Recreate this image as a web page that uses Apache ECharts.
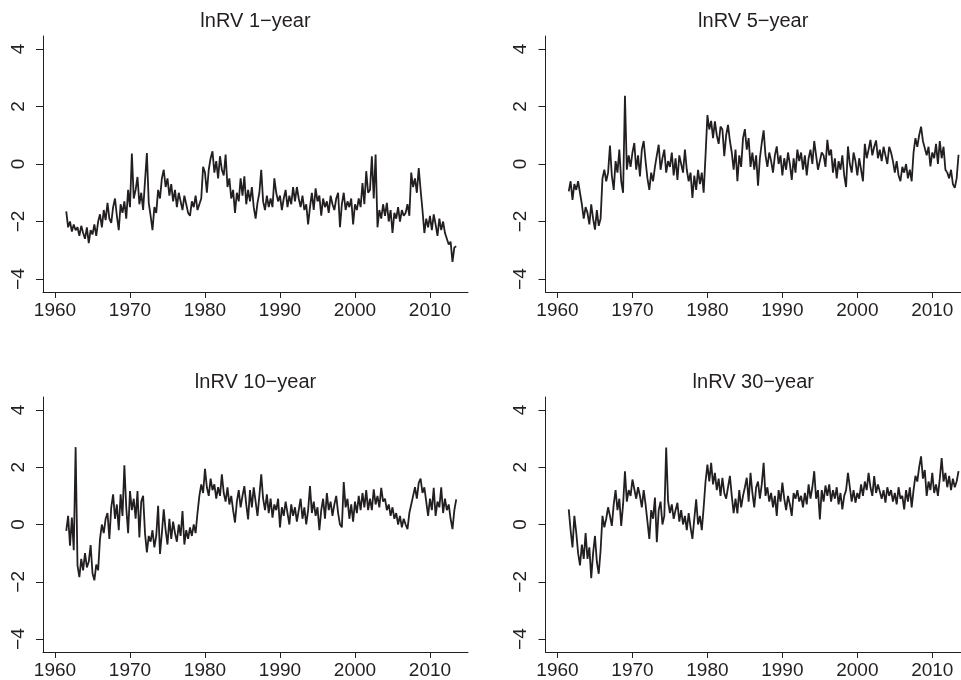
<!DOCTYPE html>
<html>
<head>
<meta charset="utf-8">
<script src="https://cdn.jsdelivr.net/npm/echarts@6/dist/echarts.min.js"></script>
<style>
  html, body { margin: 0; padding: 0; background: #fff; }
  #chart { width: 961px; height: 680px; }
</style>
</head>
<body>
<div id="chart"></div>
<script>
// quarterly observations, 1961.5 .. 2013.5
const startYear = 1961.5;
const step = 0.25;

const titles = ['lnRV 1\u2212year', 'lnRV 5\u2212year', 'lnRV 10\u2212year', 'lnRV 30\u2212year'];
const xTicks = [1960, 1970, 1980, 1990, 2000, 2010];
const yTicks = [-4, -2, 0, 2, 4];

const lnRV1 = [
  -1.65, -2.2,
  -2.0, -2.35, -2.1, -2.3,
  -2.2, -2.5, -2.15, -2.4,
  -2.6, -2.2, -2.75, -2.3,
  -2.45, -2.1, -2.5, -2.0,
  -1.75, -2.2, -1.6, -1.95,
  -1.35, -1.9, -2.05, -1.5,
  -1.2, -1.8, -2.3, -1.4,
  -1.7, -1.3, -1.9, -0.9,
  -1.5, 0.36, -1.2, -0.9,
  -0.45, -1.4, -1.0, -1.6,
  -0.6, 0.38, -1.35, -1.8,
  -2.3, -1.5, -1.7, -0.9,
  -1.2, -0.5, -0.2, -0.8,
  -0.5, -1.1, -0.7, -1.3,
  -0.9, -1.5, -1.0, -1.3,
  -1.6, -1.1, -1.4, -1.7,
  -1.8, -1.3, -1.5, -1.1,
  -1.6, -1.4, -1.2, -0.1,
  -0.3, -1.0, -0.2, 0.2,
  0.44, -0.3, 0.1, -0.5,
  0.27, -0.2, -0.4, 0.33,
  -0.8, -0.5, -1.2, -0.9,
  -1.7, -1.0, -1.3, -0.5,
  -1.1, -0.43, -1.4, -0.9,
  -1.3, -0.8, -1.5, -1.9,
  -1.35, -1.0, -0.2, -1.3,
  -1.6, -1.1, -1.5, -1.2,
  -1.5, -0.5, -1.0, -1.3,
  -1.1, -1.6, -1.2, -0.9,
  -1.5, -1.1, -1.4, -0.8,
  -1.3, -0.8, -1.2, -1.5,
  -1.1, -1.6, -1.4, -2.1,
  -1.5, -1.0, -1.6, -0.85,
  -1.3, -1.1, -1.8, -1.2,
  -1.5, -1.3, -1.7, -1.1,
  -1.4, -1.6, -1.2, -1.0,
  -2.2, -1.4, -1.0, -1.6,
  -1.3, -1.5, -1.2, -2.1,
  -1.4, -1.6, -1.2, -1.5,
  -0.66, -1.4, -0.25, -1.0,
  -0.9, 0.27, -1.2, 0.33,
  -2.2, -1.6, -1.9, -1.4,
  -1.8, -1.35, -2.0, -1.6,
  -2.4, -1.7, -1.9, -1.5,
  -2.0, -1.6, -1.8, -1.7,
  -1.4, -1.8, -0.3, -0.8,
  -0.5, -1.0, -0.14, -0.9,
  -1.6, -2.4, -1.9, -2.2,
  -1.8, -2.3, -1.75, -2.1,
  -2.5, -1.9, -2.3, -2.0,
  -2.4, -2.6, -2.8, -2.7,
  -3.4, -2.9, -2.86
];

const lnRV5 = [
  -0.95, -0.6,
  -1.25, -0.7, -0.9, -0.6,
  -1.0, -1.4, -1.9, -1.5,
  -1.7, -2.1, -1.4, -1.9,
  -2.28, -1.6, -2.15, -1.9,
  -0.5, -0.2, -0.6, -0.3,
  0.64, -0.4, -0.9, 0.1,
  -0.3, 0.5, -0.6, -1.0,
  2.37, -0.2, 0.3, -0.1,
  0.4, 0.73, -0.2, 0.3,
  -0.43, 0.5, 0.8, 0.1,
  -0.5, -0.9, -0.3, -0.6,
  -0.1, 0.3, 0.67, -0.2,
  0.2, 0.5, -0.3, 0.1,
  -0.1, 0.4, -0.4, 0.2,
  -0.55, 0.3, 0.0, -0.3,
  0.5, -0.2, -0.6, -0.3,
  -1.18, -0.4, -0.9, -0.2,
  -0.7, -0.3, -1.0, 0.3,
  1.7, 1.2, 1.5, 0.9,
  1.48, 1.0, 0.7, 1.3,
  1.2, 0.27, 1.0, 1.36,
  0.8, 0.4, -0.2, 0.5,
  -0.6, 0.3, -0.1, 0.9,
  1.21, 0.5, 0.9, -0.1,
  0.4, -0.2, 0.3, -0.75,
  0.2, 0.73, 1.17, 0.3,
  -0.1, 0.4, 0.1, -0.3,
  0.3, 0.61, 0.0, 0.3,
  -0.4, 0.2, -0.2, 0.4,
  0.0, -0.55, 0.2, -0.3,
  0.5, 0.1, 0.4, -0.2,
  0.3, -0.4, 0.2, 0.5,
  0.0, 0.8, 0.3, -0.2,
  0.1, 0.4, 0.3, -0.1,
  0.84, 0.3, 0.5, -0.3,
  0.2, -0.5, 0.1, -0.2,
  0.3, -0.4, -0.8, 0.61,
  0.0, -0.3, 0.4, 0.1,
  -0.4, 0.2, -0.2, -0.6,
  0.7, 0.2, 0.5, 0.84,
  0.3, 0.6, 0.82, 0.2,
  0.5, 0.1, 0.6, 0.3,
  0.0, 0.6, 0.4, 0.1,
  -0.3, 0.1, -0.4, -0.6,
  -0.1, -0.3, 0.0, -0.5,
  -0.2, -0.6, 0.4, 0.9,
  0.6, 1.0, 1.3, 0.8,
  0.84, 0.3, 0.6, -0.08,
  0.4, 0.2, 0.7, 0.0,
  0.8, 0.2, 0.6, -0.2,
  -0.3, -0.5, -0.2, -0.7,
  -0.83, -0.5, 0.32
];

const lnRV10 = [
  -0.22, 0.3,
  -0.74, 0.24, -0.9, 2.7,
  -1.43, -1.84, -1.2, -1.6,
  -1.0, -1.5, -1.3, -0.72,
  -1.7, -1.95, -1.4, -1.6,
  -0.5, 0.0, -0.3, 0.2,
  0.4, -0.5, 0.6, 1.05,
  0.2, 0.7, -0.2, 1.05,
  0.3, 2.07, 0.6, -0.3,
  1.17, 0.5, 0.9, 0.2,
  1.17, -0.45, 0.8, 1.0,
  -0.3, -0.97, -0.4, -0.6,
  -0.2, -0.8, -0.4, 0.65,
  -1.03, -0.3, 0.53, -0.2,
  -0.7, 0.2, -0.5, 0.1,
  -0.3, -0.6, 0.0, -0.4,
  0.47, -0.7, -0.2, -0.5,
  -0.1, -0.4, 0.0, -0.3,
  0.4, 1.0, 1.4, 1.1,
  1.94, 1.3, 1.0, 1.6,
  1.2, 1.4, 0.9, 1.3,
  1.0, 1.75, 1.1, 0.8,
  1.3, 0.7, 1.0, 0.5,
  0.07, 0.8, 1.2, 0.6,
  1.0, 1.34, 0.7, 0.18,
  1.2, 0.6, 1.3, 0.8,
  0.3, 1.0, 1.75, 0.9,
  0.5, 1.05, 0.4, 0.9,
  0.24, 0.7, 0.5, 0.9,
  -0.1, 0.6, 0.3, 0.8,
  0.4, 0.0, 0.7, 0.3,
  0.6, 0.1, 0.5, 0.9,
  0.2, 0.6, 0.0, 0.5,
  1.34, 0.4, 0.8, 0.3,
  0.6, -0.2, 0.5, 0.9,
  0.2, 1.1, 0.5, 0.8,
  0.3, 0.7, 1.0, 0.4,
  0.0, -0.1, 1.48, 0.6,
  0.9, 0.2, 0.7, 0.1,
  0.8, 0.4, 1.0, 0.5,
  1.1, 0.6, 1.2, 0.5,
  0.9, 0.5, 1.23, 0.7,
  1.0, 0.6, 1.28, 0.8,
  0.9, 0.5, 0.7, 0.3,
  0.6, 0.2, 0.4, 0.0,
  0.3, -0.1, 0.2, 0.0,
  -0.16, 0.4, 0.7, 1.0,
  1.3, 0.9, 1.45, 1.6,
  1.1, 1.3, 0.8, 0.3,
  0.9, 0.5, 1.28, 0.3,
  0.8, 0.6, 1.3, 0.4,
  0.9, 0.5, 0.7, 0.2,
  -0.16, 0.5, 0.88
];

const lnRV30 = [
  0.53, -0.2,
  -0.8, 0.3, -0.28, -1.0,
  -1.43, -0.7, -1.2, -0.3,
  -1.2, -0.8, -1.87, -1.0,
  -0.4, -1.3, -1.72, -0.9,
  0.3, -0.1, 0.2, 0.6,
  0.3, -0.05, 0.7, 1.2,
  0.5, 0.9, -0.05, 0.7,
  1.86, 0.8, 1.2, 1.0,
  1.57, 1.63, 0.9, 1.3,
  1.0, 0.6, 1.2, 0.7,
  0.1, -0.5, 0.5, 0.2,
  0.94, -0.62, 0.5, 0.8,
  0.0, 0.3, 2.69, 0.82,
  0.4, 0.7, 0.2, 0.5,
  0.76, 0.1, 0.5, 0.0,
  0.3, -0.2, 0.4, -0.1,
  -0.5, 0.2, 0.88, 0.0,
  0.3, -0.2, 0.6, 1.5,
  2.09, 1.5, 2.15, 1.4,
  1.8, 1.2, 1.6, 1.0,
  1.63, 1.1, 0.9, 1.3,
  1.7, 1.0, 0.4, 0.9,
  0.39, 1.2, 0.6, 1.0,
  1.3, 1.63, 0.8, 1.8,
  1.1, 0.6, 1.3, 1.5,
  0.9, 1.4, 2.15, 1.0,
  1.3, 0.8, 1.1, 0.6,
  1.0, 0.3, 1.2, 0.8,
  1.46, 0.9, 0.5, 1.0,
  0.7, 0.3, 1.1, 0.9,
  1.2, 0.8, 1.0, 0.6,
  1.1, 0.7, 1.4, 0.9,
  1.3, 1.86, 0.9, 1.2,
  0.18, 1.2, 0.8, 1.36,
  1.0, 1.4, 0.8, 1.2,
  0.9, 1.3, 0.7, 1.1,
  0.53, 1.0, 1.2, 1.8,
  1.3, 0.8, 1.2, 0.76,
  1.1, 0.9, 1.4, 1.0,
  1.5, 1.2, 1.8, 1.3,
  1.0, 1.69, 1.1, 1.4,
  1.36, 0.9, 1.2, 0.76,
  1.3, 1.0, 1.2, 0.8,
  1.1, 0.7, 1.3, 0.9,
  1.0, 0.53, 1.2, 0.8,
  1.3, 0.6, 1.2, 1.7,
  1.5, 2.0, 2.38, 1.6,
  1.9, 1.0, 1.5, 1.2,
  1.8, 1.1, 1.4, 1.0,
  1.6, 2.32, 1.5, 1.8,
  1.3, 1.7, 1.2, 1.6,
  1.3, 1.5, 1.86
];

const seriesData = [lnRV1, lnRV5, lnRV10, lnRV30];

function pairs(values) {
  return values.map((v, i) => [startYear + i * step, v]);
}

const textColor = '#231f20';
const font = 'Liberation Sans, Arial, sans-serif';

// panel boxes in px: [left, top, width, height, xMax]
const panels = [
  [43, 36, 425, 256, 2015.07],
  [545.5, 36, 415.5, 256, 2013.83],
  [43, 397, 425, 256, 2015.07],
  [545.5, 397, 415.5, 256, 2013.83]
];

const myChart = echarts.init(document.getElementById('chart'), null, { renderer: 'canvas' });

const option = {
  backgroundColor: '#fff',
  animation: false,
  title: panels.map((p, i) => ({
    text: titles[i],
    left: p[0] + p[2] / 2,
    top: p[1] - 25,
    textAlign: 'center',
    padding: 0,
    textStyle: { color: textColor, fontFamily: font, fontSize: 20, fontWeight: 'normal' }
  })),
  grid: panels.map(p => ({ left: p[0], top: p[1], width: p[2], height: p[3] })),
  xAxis: panels.map((p, i) => ({
    type: 'value',
    gridIndex: i,
    min: 1958.4,
    max: p[4],
    axisLine: { show: true, onZero: false, lineStyle: { color: textColor, width: 1 } },
    axisTick: { show: true, length: 6, customValues: xTicks, lineStyle: { color: textColor } },
    axisLabel: {
      customValues: xTicks,
      formatter: v => String(v),
      color: textColor, fontFamily: font, fontSize: 19, margin: 9
    },
    splitLine: { show: false }
  })),
  yAxis: panels.map((p, i) => ({
    type: 'value',
    gridIndex: i,
    min: -4.45,
    max: 4.45,
    axisLine: { show: true, onZero: false, lineStyle: { color: textColor, width: 1 } },
    axisTick: { show: true, length: 7, customValues: yTicks, lineStyle: { color: textColor } },
    axisLabel: {
      customValues: yTicks,
      formatter: v => String(v).replace('-', '\u2212'),
      rotate: 90, color: textColor, fontFamily: font, fontSize: 19, margin: 15
    },
    splitLine: { show: false }
  })),
  series: seriesData.map((d, i) => ({
    type: 'line',
    xAxisIndex: i,
    yAxisIndex: i,
    data: pairs(d),
    symbol: 'none',
    lineStyle: { color: textColor, width: 1.8 }
  }))
};

myChart.setOption(option);
window.addEventListener('resize', () => {
  myChart.resize();
});
</script>
</body>
</html>
